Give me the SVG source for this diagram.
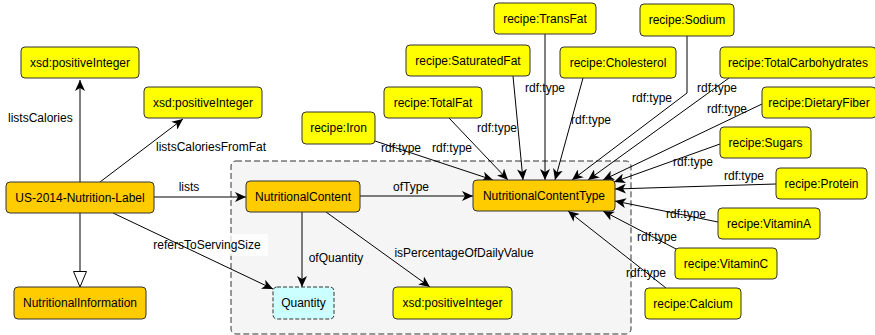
<svg xmlns="http://www.w3.org/2000/svg" width="875" height="335" viewBox="0 0 875 335">
<defs>
<style>
text{font-family:"Liberation Sans",Arial,sans-serif;font-size:12px;fill:#000}
.n text,.t{text-anchor:middle}
.cls{fill:#ffcc00;stroke:#333;stroke-width:1}
.ind{fill:#ffff00;stroke:#333;stroke-width:1}
.e{fill:none;stroke:#000;stroke-width:1}
.g{fill:none;stroke:#808080;stroke-width:2}
</style>
<marker id="arr" markerUnits="userSpaceOnUse" markerWidth="12" markerHeight="10" refX="11" refY="5" orient="auto" viewBox="0 0 12 10">
<path d="M0,0 L11,5 L0,10 L3,5 Z" fill="#000"/>
</marker>
<marker id="tri" markerUnits="userSpaceOnUse" markerWidth="18" markerHeight="16" refX="16" refY="7" orient="auto" viewBox="0 0 18 14">
<path d="M0.5,0.5 L16,7 L0.5,13.5 Z" fill="#fff" stroke="#000" stroke-width="1"/>
</marker>
</defs>
<rect width="875" height="335" fill="#fff"/>
<g id="container">
<rect x="231" y="161" width="400" height="173" rx="5" fill="#f5f5f5" stroke="#333" stroke-width="1" stroke-dasharray="6,3"/>
</g>
<rect x="150" y="234" width="118" height="22" fill="#fff" fill-opacity="0.75"/>
<g id="connectors">
<path class="g" d="M80,182 L80,80" marker-end="url(#arr)"/>
<path class="g" d="M80,213 L80,287" marker-end="url(#tri)"/>
<path class="e" d="M100,182 L183,119" marker-end="url(#arr)"/>
<path class="e" d="M154,197 L246,197" marker-end="url(#arr)"/>
<path class="e" d="M113,213 L273,289" marker-end="url(#arr)"/>
<path class="e" d="M360,196 L473,196" marker-end="url(#arr)"/>
<path class="e" d="M302,212 L302,287" marker-end="url(#arr)"/>
<path class="e" d="M326,212 L430,287" marker-end="url(#arr)"/>
<path class="e" d="M375,141 L493,180" marker-end="url(#arr)"/>
<path class="e" d="M449,118 L508,180" marker-end="url(#arr)"/>
<path class="e" d="M513,76 L523,180" marker-end="url(#arr)"/>
<path class="e" d="M545,34 L545,180" marker-end="url(#arr)"/>
<path class="e" d="M583,78 L555,180" marker-end="url(#arr)"/>
<path class="e" d="M687,36 L687,93 L572,180" marker-end="url(#arr)"/>
<path class="e" d="M729,78 L588,180" marker-end="url(#arr)"/>
<path class="e" d="M762,104 L603,180" marker-end="url(#arr)"/>
<path class="e" d="M720,144 L614,182" marker-end="url(#arr)"/>
<path class="e" d="M776,184 L615,189" marker-end="url(#arr)"/>
<path class="e" d="M718,222 L615,201" marker-end="url(#arr)"/>
<path class="e" d="M678,250 L603,211" marker-end="url(#arr)"/>
<path class="e" d="M666,288 L568,211" marker-end="url(#arr)"/>
<g class="labels">
<text x="8" y="122">listsCalories</text>
<text class="t" x="211" y="151">listsCaloriesFromFat</text>
<text class="t" x="189" y="191">lists</text>
<text class="t" x="207" y="249">refersToServingSize</text>
<text class="t" x="411" y="191">ofType</text>
<text class="t" x="336" y="262">ofQuantity</text>
<text class="t" x="464" y="257">isPercentageOfDailyValue</text>
<text class="t" x="401" y="152">rdf:type</text>
<text class="t" x="452" y="152">rdf:type</text>
<text class="t" x="497" y="132">rdf:type</text>
<text class="t" x="545" y="92">rdf:type</text>
<text class="t" x="591" y="124">rdf:type</text>
<text class="t" x="652" y="102">rdf:type</text>
<text class="t" x="717" y="92">rdf:type</text>
<text class="t" x="727" y="113">rdf:type</text>
<text class="t" x="693" y="166">rdf:type</text>
<text class="t" x="744" y="180">rdf:type</text>
<text class="t" x="686" y="218">rdf:type</text>
<text class="t" x="657" y="241">rdf:type</text>
<text class="t" x="646" y="277">rdf:type</text>
</g>
</g>
<g id="xsd1" class="n"><rect class="ind" x="21" y="47" width="118" height="31" rx="4"/><text x="80" y="66.5">xsd:positiveInteger</text></g>
<g id="xsd2" class="n"><rect class="ind" x="144" y="87" width="118" height="31" rx="4"/><text x="203" y="106.5">xsd:positiveInteger</text></g>
<g id="label" class="n"><rect class="cls" x="6" y="182" width="148" height="31" rx="4"/><text x="80" y="201.5">US-2014-Nutrition-Label</text></g>
<g id="nutinfo" class="n"><rect class="cls" x="14" y="287" width="132" height="32" rx="4"/><text x="80" y="307">NutritionalInformation</text></g>
<g id="nc" class="n"><rect class="cls" x="246" y="181" width="114" height="31" rx="4"/><text x="303" y="200.5">NutritionalContent</text></g>
<g id="nct" class="n"><rect class="cls" x="473" y="180" width="142" height="31" rx="4"/><text x="544" y="199.5">NutritionalContentType</text></g>
<g id="quantity" class="n"><rect x="273" y="287" width="61" height="32" rx="4" fill="#ccffff" stroke="#333" stroke-dasharray="4,2"/><text x="303.5" y="307">Quantity</text></g>
<g id="xsd3" class="n"><rect class="ind" x="393" y="287" width="119" height="32" rx="4"/><text x="452.5" y="307">xsd:positiveInteger</text></g>
<g id="transfat" class="n"><rect class="ind" x="494" y="3" width="102" height="31" rx="4"/><text x="545" y="22.5">recipe:TransFat</text></g>
<g id="satfat" class="n"><rect class="ind" x="406" y="45" width="124" height="31" rx="4"/><text x="468" y="64.5">recipe:SaturatedFat</text></g>
<g id="chol" class="n"><rect class="ind" x="560" y="47" width="116" height="31" rx="4"/><text x="618" y="66.5">recipe:Cholesterol</text></g>
<g id="totalfat" class="n"><rect class="ind" x="384" y="87" width="98" height="31" rx="4"/><text x="433" y="106.5">recipe:TotalFat</text></g>
<g id="iron" class="n"><rect class="ind" x="302" y="112" width="73" height="32" rx="4"/><text x="338.5" y="132">recipe:Iron</text></g>
<g id="sodium" class="n"><rect class="ind" x="640" y="4" width="94" height="32" rx="4"/><text x="687" y="24">recipe:Sodium</text></g>
<g id="carbs" class="n"><rect class="ind" x="720" y="47" width="156" height="31" rx="4"/><text x="798" y="66.5">recipe:TotalCarbohydrates</text></g>
<g id="fiber" class="n"><rect class="ind" x="762" y="87" width="114" height="31" rx="4"/><text x="819" y="106.5">recipe:DietaryFiber</text></g>
<g id="sugars" class="n"><rect class="ind" x="720" y="127" width="91" height="31" rx="4"/><text x="765.5" y="146.5">recipe:Sugars</text></g>
<g id="protein" class="n"><rect class="ind" x="776" y="168" width="91" height="31" rx="4"/><text x="821.5" y="187.5">recipe:Protein</text></g>
<g id="vita" class="n"><rect class="ind" x="718" y="208" width="102" height="31" rx="4"/><text x="769" y="227.5">recipe:VitaminA</text></g>
<g id="vitc" class="n"><rect class="ind" x="675" y="248" width="102" height="31" rx="4"/><text x="726" y="267.5">recipe:VitaminC</text></g>
<g id="calcium" class="n"><rect class="ind" x="645" y="288" width="96" height="31" rx="4"/><text x="693" y="307.5">recipe:Calcium</text></g>
</svg>
